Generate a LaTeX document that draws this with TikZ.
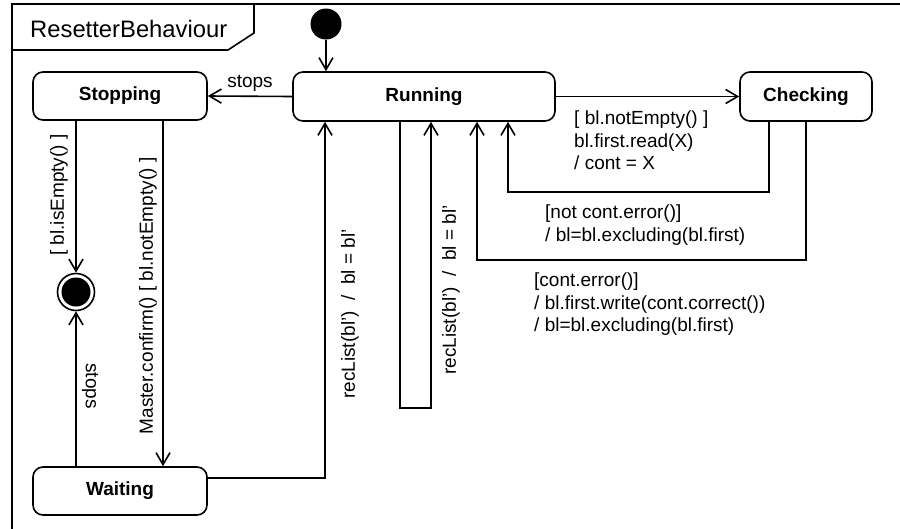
\documentclass[tikz,border=0pt]{standalone}
\usepackage{fontspec}
\setmainfont{Liberation Sans}
\usetikzlibrary{arrows.meta}
\begin{document}
\begin{tikzpicture}[x=1pt,y=-1pt,
  every node/.style={font=\fontsize{19}{22.5}\selectfont, inner sep=0pt},
  stbox/.style={draw, rounded corners=10pt, line width=1.6pt, font=\fontsize{19}{22.5}\selectfont\bfseries},
  tr/.style={line width=1.6pt, -{Straight Barb[length=12pt,width=14pt,line width=1.6pt]}},
  lbl/.style={align=left, anchor=north west},
  frm/.style={line width=1.6pt}
]
\useasboundingbox (0,0) rectangle (900,528);
% frame
\draw[frm] (12,540) -- (12,4) -- (910,4);
\draw[frm] (12,50) -- (228,50) -- (254,33) -- (254,4);
\node[anchor=base west, font=\fontsize{23.8}{28}\selectfont] (title) at (30,37) {ResetterBehaviour};

% states
\node[stbox, minimum width=174pt, minimum height=48pt] (stop) at (120,96) {Stopping};
\node[stbox, minimum width=262pt, minimum height=49pt] (run) at (424,96.5) {Running};
\node[stbox, minimum width=132pt, minimum height=49pt] (chk) at (806,96.5) {Checking};
\node[stbox, minimum width=174pt, minimum height=48pt] (wait) at (120,491) {Waiting};

\node[circle, fill, minimum size=31pt] (ini) at (326,24) {};
\node[circle, draw, line width=1.6pt, minimum size=37pt] (fin) at (76,292) {};
\fill (fin.center) circle[radius=14.5pt];

% transitions
\draw[tr] (ini.south) -- (ini.south |- run.north);
\draw[tr] (run.west) -- (stop.east) node[midway, anchor=base, yshift=8.5pt] (lstops) {stops};
\draw[tr] (run.east) -- (chk.west);
\draw[tr] (fin |- stop.south) -- (fin.north);
\draw[tr] ([xshift=43pt]stop.south) -- ([xshift=43pt]wait.north);
\draw[tr] (fin |- wait.north) -- (fin.south);
\draw[tr] ([yshift=13pt]wait.east) -| ([xshift=-99pt]run.south);
\coordinate (lp) at (431,408);
\draw[tr] ([xshift=-24pt]run.south) |- (lp) -- ([xshift=7pt]run.south);
\coordinate (c1) at (508,192);
\draw[tr] ([xshift=-37pt]chk.south) |- (c1) -- ([xshift=84pt]run.south);
\coordinate (c2) at (477,260);
\draw[tr] (chk.south) |- (c2) -- ([xshift=53pt]run.south);

% labels
\node[lbl] (l1) at (574,111) {[ bl.notEmpty() ]\\bl.first.read(X)\\/ cont = X};
\node[lbl] (l2) at (545,205) {[not cont.error()]\\/ bl=bl.excluding(bl.first)};
\node[lbl] (l3) at (534,273) {[cont.error()]\\/ bl.first.write(cont.correct())\\/ bl=bl.excluding(bl.first)};
\node[rotate=90] (l4) at (59,195) {[ bl.isEmpty() ]};
\node[rotate=90] (l5) at (148,296) {Master.confirm() [ bl.notEmpty() ]};
\node[rotate=-90] (l6) at (90,386) {stops};
\node[rotate=90] (l7) at (350,314) {recList(bl')~~/~~bl = bl'};
\node[rotate=90] (l8) at (451,290) {recList(bl')~~/~~bl = bl'};
\end{tikzpicture}
\end{document}
